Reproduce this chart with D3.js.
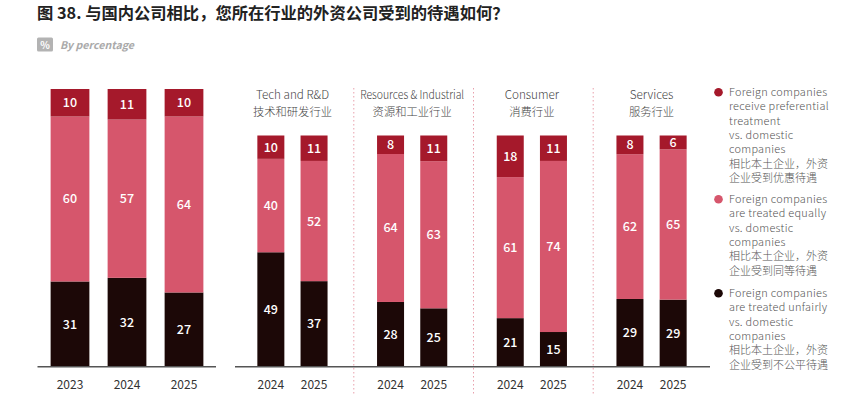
<!DOCTYPE html>
<html><head><meta charset="utf-8">
<script src="https://cdn.jsdelivr.net/npm/d3@7"></script>
<style>
html,body{margin:0;padding:0;background:#fff;}
svg{display:block;font-family:"Noto Sans CJK SC","Noto Sans",sans-serif;}
</style></head>
<body><svg id="c" width="866" height="396"></svg>
<script>
const title = "图 38. 与国内公司相比，您所在行业的外资公司受到的待遇如何？";
const subtitle = "By percentage";
const overallYears = ["2023","2024","2025"];
const overallPref = [10,11,10];
const overallEqual = [60,57,64];
const overallUnfair = [31,32,27];
const sectors = ["Tech and R&D","Resources & Industrial","Consumer","Services"];
const sectorsZh = ["技术和研发行业","资源和工业行业","消费行业","服务行业"];
const sectorYears = ["2024","2025"];
const sectorPref = [[10,11],[8,11],[18,11],[8,6]];
const sectorEqual = [[40,52],[64,63],[61,74],[62,65]];
const sectorUnfair = [[49,37],[28,25],[21,15],[29,29]];
const seriesKeys = ["unfair","equal","pref"];
const colors = {pref:"#a5192b", equal:"#d6566c", unfair:"#1c0807"};
const legendEn = [
  ["Foreign companies","receive preferential","treatment","vs. domestic","companies"],
  ["Foreign companies","are treated equally","vs. domestic","companies"],
  ["Foreign companies","are treated unfairly","vs. domestic","companies"]];
const legendZh = [
  ["相比本土企业，外资","企业受到优惠待遇"],
  ["相比本土企业，外资","企业受到同等待遇"],
  ["相比本土企业，外资","企业受到不公平待遇"]];
const legendKeys = ["pref","equal","unfair"];

const svg = d3.select("#c");
const baseY = 366.7;

// Title
svg.append("text").attr("x",37).attr("y",19).attr("font-size",16.3).attr("font-weight",700)
  .attr("fill","#222").text(title);
svg.append("rect").attr("x",37).attr("y",37.5).attr("width",16).attr("height",14).attr("rx",1.5).attr("fill","#b3b3b3");
svg.append("text").attr("x",45).attr("y",48.5).attr("text-anchor","middle").attr("font-size",10)
  .attr("font-weight",700).attr("fill","#fff").text("%");
svg.append("text").attr("x",60).attr("y",48.5).attr("font-size",10.6).attr("font-weight",700)
  .attr("font-style","italic").attr("fill","#aaa").text(subtitle);

const stack = d3.stack().keys(seriesKeys).offset(d3.stackOffsetExpand);

function drawBars(g, rows, x, y, bw) {
  const layers = stack(rows);
  layers.forEach(layer => {
    const key = layer.key;
    g.selectAll(null).data(layer).join("rect")
      .attr("x", d => x(d.data.year))
      .attr("width", bw)
      .attr("y", d => y(d[1]))
      .attr("height", d => y(d[0]) - y(d[1]))
      .attr("fill", colors[key]);
    g.selectAll(null).data(layer).join("text")
      .attr("x", d => x(d.data.year) + bw/2)
      .attr("y", d => (y(d[0]) + y(d[1]))/2)
      .attr("dy","0.36em")
      .attr("text-anchor","middle")
      .attr("font-size",12.5).attr("font-weight",500)
      .attr("fill","#fff")
      .text(d => d.data[key]);
  });
  g.selectAll(null).data(rows).join("text")
    .attr("x", d => x(d.year) + bw/2).attr("y", 388.5)
    .attr("text-anchor","middle").attr("font-size",12).attr("fill","#333")
    .text(d => d.year);
}

// Overall
const yL = d3.scaleLinear().domain([0,1]).range([baseY, 89]);
const xL = d3.scaleBand().domain(overallYears).range([41.5,212.5]).paddingInner(0.32).paddingOuter(0.16);
const overallRows = overallYears.map((yr,i)=>({year:yr, pref:overallPref[i], equal:overallEqual[i], unfair:overallUnfair[i]}));
drawBars(svg.append("g"), overallRows, xL, yL, xL.bandwidth());
svg.append("line").attr("x1",37.5).attr("x2",216).attr("y1",baseY).attr("y2",baseY)
  .attr("stroke","#555").attr("stroke-width",1.5);

// Sectors
const yR = d3.scaleLinear().domain([0,1]).range([baseY, 135.5]);
const xS = d3.scaleBand().domain(sectors).range([232.6,711.4]);
const xIn = d3.scaleBand().domain(sectorYears).range([-43.2,43.2]).paddingInner(0.375).paddingOuter(0.1875);
const maxLabelW = 104;
sectors.forEach((s,si) => {
  const cx = xS(s) + xS.bandwidth()/2;
  const g = svg.append("g").attr("transform", `translate(${cx},0)`);
  const rows = sectorYears.map((yr,i)=>({year:yr, pref:sectorPref[si][i], equal:sectorEqual[si][i], unfair:sectorUnfair[si][i]}));
  drawBars(g, rows, xIn, yR, xIn.bandwidth());
  const t = g.append("text").attr("x",0).attr("y",99).attr("text-anchor","middle").attr("font-size",11.7)
    .attr("font-weight",300).attr("fill","#444").text(s);
  const w = t.node().getComputedTextLength();
  if (w > maxLabelW) t.attr("textLength", maxLabelW).attr("lengthAdjust","spacingAndGlyphs");
  g.append("text").attr("x",0).attr("y",116).attr("text-anchor","middle").attr("font-size",11.3)
    .attr("font-weight",300).attr("fill","#444").text(sectorsZh[si]);
  if (si > 0) {
    svg.append("line").attr("x1",xS(s)+1.5).attr("x2",xS(s)+1.5).attr("y1",88).attr("y2",396)
      .attr("stroke","#e8a0ac").attr("stroke-width",1).attr("stroke-dasharray","1.5,2.5");
  }
});
svg.append("line").attr("x1",235).attr("x2",710).attr("y1",baseY).attr("y2",baseY)
  .attr("stroke","#555").attr("stroke-width",1.5);

// Legend
const legStarts = [92.3, 199.3, 293.3];
const lhEn = 14.3, lhZh = 14.4, enZhGap = 14.4;
legendKeys.forEach((k,i) => {
  const y0 = legStarts[i];
  svg.append("circle").attr("cx",718.5).attr("cy",y0).attr("r",4.3).attr("fill",colors[k]);
  const nEn = legendEn[i].length;
  legendEn[i].forEach((t,j) => {
    svg.append("text").attr("x",729).attr("y",y0 + j*lhEn).attr("dy","0.35em")
      .attr("font-size",10.9).attr("letter-spacing",0.3).attr("font-weight",300).attr("fill","#555").text(t);
  });
  const zy0 = y0 + (nEn-1)*lhEn + enZhGap;
  legendZh[i].forEach((t,j) => {
    svg.append("text").attr("x",729).attr("y",zy0 + j*lhZh).attr("dy","0.35em")
      .attr("font-size",11.0).attr("font-weight",300).attr("fill","#555").text(t);
  });
});
</script></body></html>
